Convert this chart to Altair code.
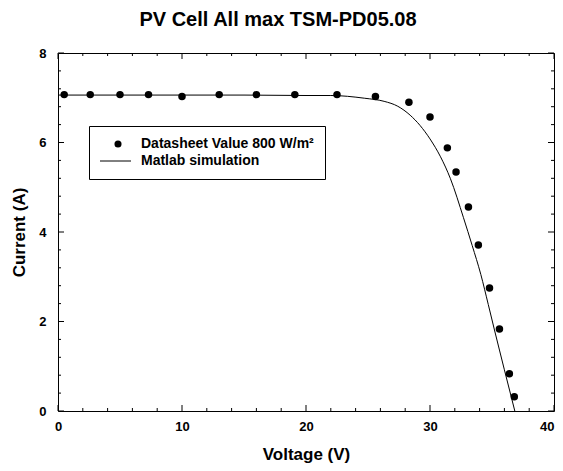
import altair as alt
import pandas as pd

# Datasheet points (V, A)
volt_data = [0.5, 2.6, 5.0, 7.3, 10.0, 13.0, 16.0, 19.1, 22.5, 25.6, 28.3, 30.0,
             31.4, 32.1, 33.1, 33.9, 34.8, 35.6, 36.4, 36.8]
curr_data = [7.07, 7.07, 7.07, 7.07, 7.03, 7.07, 7.07, 7.07, 7.07, 7.03, 6.90, 6.57,
             5.88, 5.34, 4.56, 3.71, 2.75, 1.83, 0.83, 0.32]

# Matlab simulation curve
volt_sim = [0, 5, 10, 15, 20, 22, 24.7, 26.3, 27.4, 28.4, 29.2, 30.0, 30.85, 31.65,
            32.7, 33.4, 34.1, 34.7, 35.2, 36.0, 36.84]
curr_sim = [7.06, 7.06, 7.06, 7.06, 7.05, 7.05, 6.99, 6.92, 6.81, 6.61, 6.38, 6.08,
            5.68, 5.19, 4.32, 3.70, 3.05, 2.38, 1.81, 0.92, 0.0]

series_names = ["Datasheet Value 800 W/m²", "Matlab simulation"]

x_major = [0, 10, 20, 30, 40]
x_minor = [v for v in range(2, 40, 2) if v % 10 != 0]
y_major = [0, 2, 4, 6, 8]
y_minor = [round(0.4 * k, 1) for k in range(1, 20) if k % 5 != 0]

W, H = 496, 358
FONT = "Liberation Sans"

df_pts = pd.DataFrame({"V": volt_data, "I": curr_data, "series": series_names[0]})
df_sim = pd.DataFrame({"V": volt_sim, "I": curr_sim, "sim": series_names[1]})

xscale = alt.Scale(domain=[0, 40], nice=False, zero=False)
yscale = alt.Scale(domain=[0, 8], nice=False, zero=False)

xaxis = alt.Axis(title="Voltage (V)", values=x_major, ticks=False, tickSize=0, domain=False,
                 grid=False, labelPadding=9, titlePadding=13, format="d", labelFlush=False,
                 labelAlign={"condition": {"test": "datum.value >= 40", "value": "right"},
                             "value": "center"})
yaxis = alt.Axis(title="Current (A)", values=y_major, ticks=False, tickSize=0, domain=False,
                 grid=False, labelPadding=12, titlePadding=10, format="d", labelFlush=False)

line = alt.Chart(df_sim).mark_line(strokeWidth=1, interpolate="monotone").encode(
    x=alt.X("V:Q", scale=xscale, axis=xaxis),
    y=alt.Y("I:Q", scale=yscale, axis=yaxis),
    color=alt.Color(
        "sim:N",
        scale=alt.Scale(domain=[series_names[1]], range=["black"]),
        legend=alt.Legend(
            title=None, orient="none", legendX=41.5, legendY=92,
            padding=0, symbolOffset=0, symbolType="stroke", symbolSize=961,
            symbolStrokeWidth=1, symbolStrokeColor="black",
            labelOpacity=0, labelFontSize=1, labelLimit=5, labelOffset=0,
        ),
    ),
)

points = alt.Chart(df_pts).mark_point(filled=True, color="black", size=56, opacity=1).encode(
    x=alt.X("V:Q", scale=xscale, axis=xaxis),
    y=alt.Y("I:Q", scale=yscale, axis=yaxis),
    shape=alt.Shape(
        "series:N",
        scale=alt.Scale(domain=series_names, range=["circle", "M-4.4,0H4.4"]),
        legend=alt.Legend(
            title=None, orient="none", legendX=31, legendY=73,
            strokeColor="black", padding=11,
            symbolSize=50, symbolOffset=11, labelOffset=16, labelLimit=400,
            symbolFillColor="black", symbolStrokeColor="black", symbolStrokeWidth=1,
            labelFont=FONT, labelFontSize=14, labelFontWeight="bold", labelColor="black",
            rowPadding=3, cornerRadius=0,
        ),
    ),
)

def xticks(vals, length):
    d = pd.DataFrame({"v": vals})
    bottom = alt.Chart(d).mark_rule(color="black", strokeWidth=1).encode(
        x=alt.X("v:Q", scale=xscale, axis=xaxis), y=alt.value(H), y2=alt.value(H - length))
    top = alt.Chart(d).mark_rule(color="black", strokeWidth=1).encode(
        x=alt.X("v:Q", scale=xscale, axis=xaxis), y=alt.value(0), y2=alt.value(length))
    return [bottom, top]

def yticks(vals, length):
    d = pd.DataFrame({"v": vals})
    left = alt.Chart(d).mark_rule(color="black", strokeWidth=1).encode(
        y=alt.Y("v:Q", scale=yscale, axis=yaxis), x=alt.value(0), x2=alt.value(length))
    right = alt.Chart(d).mark_rule(color="black", strokeWidth=1).encode(
        y=alt.Y("v:Q", scale=yscale, axis=yaxis), x=alt.value(W), x2=alt.value(W - length))
    return [left, right]

tick_layers = xticks(x_major, 6) + xticks(x_minor, 3) + yticks(y_major, 6) + yticks(y_minor, 3)

chart = alt.layer(line, points, *tick_layers).properties(
    width=W, height=H,
    title=alt.TitleParams("PV Cell All max TSM-PD05.08", font=FONT, fontSize=20,
                          fontWeight="bold", anchor="middle", dx=-28, dy=-13, color="black"),
    autosize=alt.AutoSizeParams(type="none"),
    padding={"left": 50, "top": 45, "right": 1, "bottom": 52},
).configure(
    background="white"
).configure_view(
    stroke="black", strokeWidth=1
).configure_axis(
    labelFont=FONT, labelFontSize=13, labelFontWeight="bold", labelColor="black",
    titleFont=FONT, titleFontSize=17, titleFontWeight="bold", titleColor="black",
)

chart.save("out.html", embed_options={"renderer": "svg", "actions": False})
